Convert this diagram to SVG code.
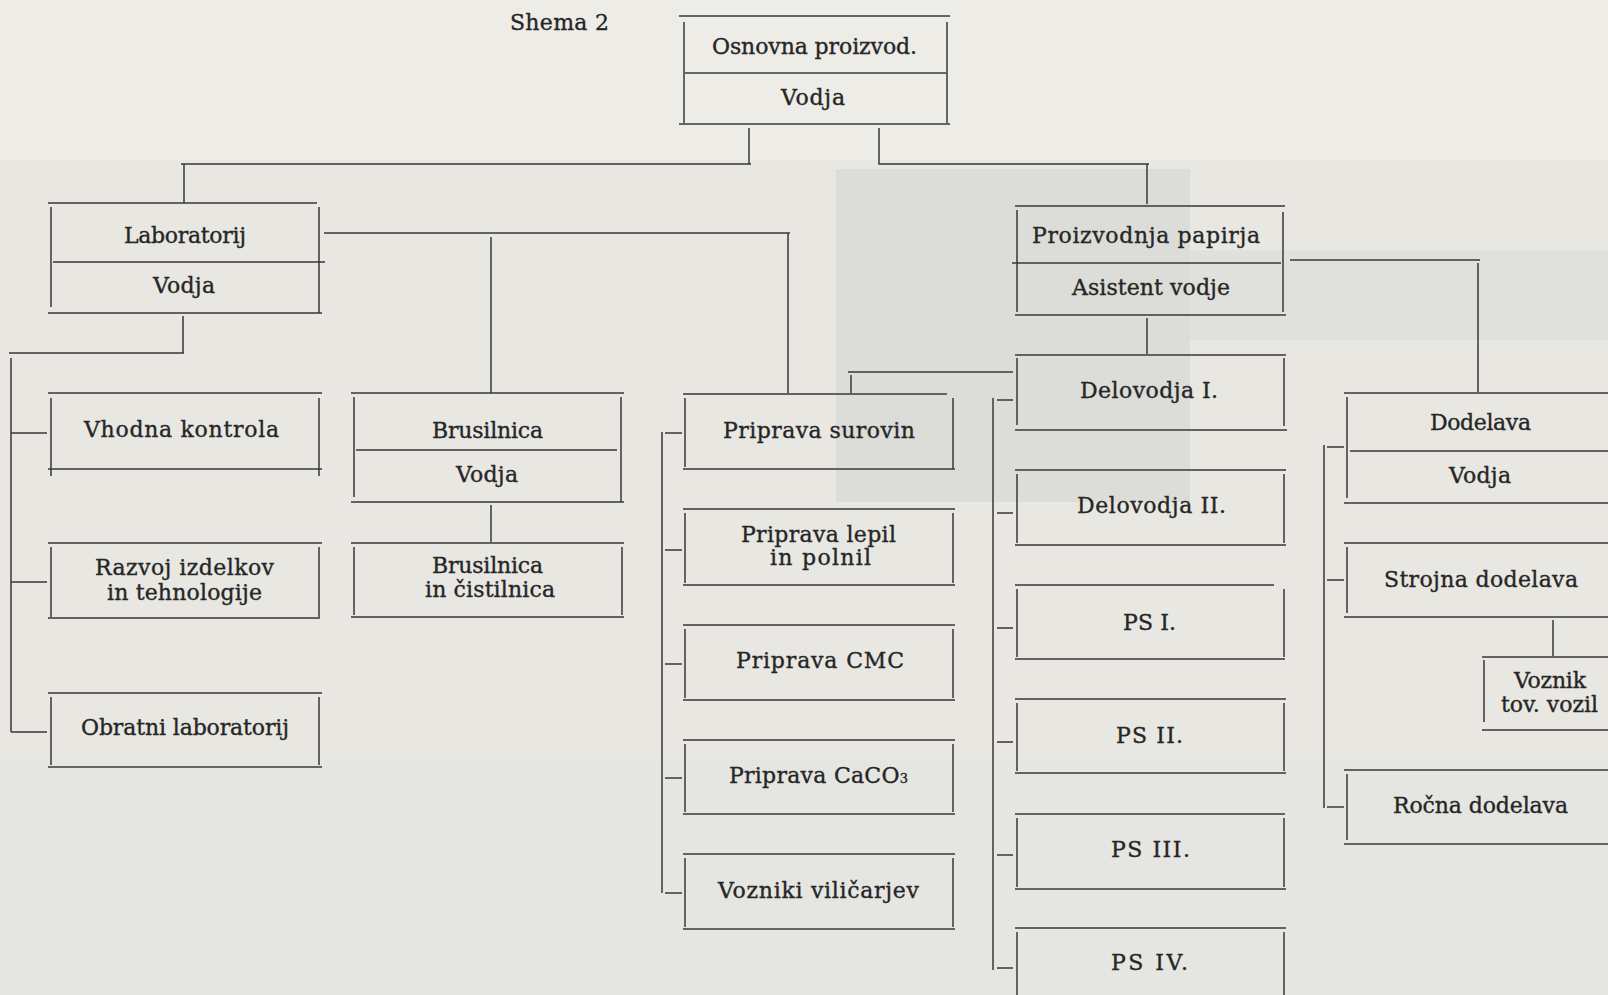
<svg xmlns="http://www.w3.org/2000/svg" width="1608" height="995" viewBox="0 0 1608 995">
<style>
.bx{fill:none;stroke:#383838;stroke-width:1.5}
.cn{fill:none;stroke:#383838;stroke-width:1.5}
text{font-family:"DejaVu Serif","Liberation Serif",serif;font-size:22px;fill:#262626;stroke:#262626;stroke-width:0.35;text-anchor:middle}
</style>
<rect x="0" y="0" width="1608" height="995" fill="#e8e7e2"/>
<rect x="0" y="0" width="1608" height="160" fill="#edece7"/>
<rect x="836" y="169" width="354" height="333" fill="#dcdcd8"/>
<rect x="1190" y="250" width="418" height="90" fill="#e0e0dc"/>
<rect x="0" y="760" width="1608" height="235" fill="#e5e5e1"/>

<text x="559.5" y="30" textLength="99" lengthAdjust="spacing">Shema 2</text>

<g id="connectors" class="cn">
<path d="M749 128 V164 M181 164 H751"/>
<path d="M879 128 V164 H1149 M1147 164 V204"/>
<path d="M184 164 V203"/>
<path d="M324 233 H790 M788 233 V393"/>
<path d="M491 237 V393"/>
<path d="M183 316 V353 M9 353 H184 M11 358 V732 M11 433 H47 M11 582 H47 M11 732 H47"/>
<path d="M491 505 V542"/>
<path d="M848 372 H1013 M851 375 V393"/>
<path d="M662 432 V893 M665 433 H682 M665 550 H682 M665 664 H682 M665 778 H682 M665 893 H682"/>
<path d="M993 398 V970 M997 400 H1013 M997 513 H1013 M997 628 H1013 M997 742 H1013 M997 855 H1013 M997 968 H1013"/>
<path d="M1147 318 V354"/>
<path d="M1290 260 H1480 M1478 263 V392"/>
<path d="M1324 445 V808 M1327 447 H1344 M1327 580 H1344 M1327 807 H1344"/>
<path d="M1553 620 V656"/>
</g>

<g id="osnovna"><path class="bx" d="M679 16 H950 M679 124 H950 M684 22 V123 M947 22 V123 M685 73 H946"/>
<text x="814.5" y="54" textLength="205" lengthAdjust="spacing">Osnovna proizvod.</text>
<text x="813" y="105" textLength="64" lengthAdjust="spacing">Vodja</text></g>

<g id="laboratorij"><path class="bx" d="M48 203 H317 M48 313 H322 M51 207 V307 M319 207 V313 M53 262 H325"/>
<text x="185" y="243" textLength="122" lengthAdjust="spacing">Laboratorij</text>
<text x="184" y="293" textLength="62" lengthAdjust="spacing">Vodja</text></g>

<g id="vhodna"><path class="bx" d="M48 393 H322 M48 469 H322 M51 398 V476 M319 398 V476"/>
<text x="181.5" y="437" textLength="195" lengthAdjust="spacing">Vhodna kontrola</text></g>

<g id="razvoj"><path class="bx" d="M48 543 H322 M48 618 H320 M51 547 V617 M319 547 V617"/>
<text x="184.5" y="575" textLength="179" lengthAdjust="spacing">Razvoj izdelkov</text>
<text x="184.5" y="600" textLength="155" lengthAdjust="spacing">in tehnologije</text></g>

<g id="obratni"><path class="bx" d="M48 693 H322 M48 767 H322 M51 697 V765 M319 697 V765"/>
<text x="185" y="735" textLength="208" lengthAdjust="spacing">Obratni laboratorij</text></g>

<g id="brusilnica"><path class="bx" d="M351 393 H624 M351 502 H624 M354 397 V497 M621 397 V502 M356 450 H617"/>
<text x="487.5" y="438" textLength="111" lengthAdjust="spacing">Brusilnica</text>
<text x="487" y="482" textLength="62" lengthAdjust="spacing">Vodja</text></g>

<g id="brusilnica-cistilnica"><path class="bx" d="M351 543 H624 M351 617 H624 M354 547 V615 M622 547 V615"/>
<text x="487.5" y="573" textLength="111" lengthAdjust="spacing">Brusilnica</text>
<text x="490" y="597" textLength="130" lengthAdjust="spacing">in čistilnica</text></g>

<g id="priprava-surovin"><path class="bx" d="M683 394 H947 M683 469 H955 M685 398 V467 M953 398 V469"/>
<text x="819" y="438" textLength="192" lengthAdjust="spacing">Priprava surovin</text></g>

<g id="priprava-lepil"><path class="bx" d="M683 509 H955 M683 585 H955 M685 513 V583 M953 513 V583"/>
<text x="818.5" y="542" textLength="155" lengthAdjust="spacing">Priprava lepil</text>
<text x="820.5" y="565" textLength="101" lengthAdjust="spacing">in polnil</text></g>

<g id="priprava-cmc"><path class="bx" d="M683 625 H955 M683 700 H955 M685 629 V698 M953 629 V698"/>
<text x="820" y="668" textLength="168" lengthAdjust="spacing">Priprava CMC</text></g>

<g id="priprava-caco3"><path class="bx" d="M683 740 H955 M683 814 H955 M685 744 V812 M953 744 V812"/>
<text x="818.5" y="783" textLength="179" lengthAdjust="spacing">Priprava CaCO<tspan font-size="13">3</tspan></text></g>

<g id="vozniki"><path class="bx" d="M683 854 H955 M683 929 H955 M685 858 V927 M953 858 V927"/>
<text x="818.5" y="898" textLength="201" lengthAdjust="spacing">Vozniki viličarjev</text></g>

<g id="proizvodnja"><path class="bx" d="M1015 206 H1285 M1015 315 H1286 M1017 210 V312 M1283 212 V312 M1012 263 H1281"/>
<text x="1146" y="243" textLength="228" lengthAdjust="spacing">Proizvodnja papirja</text>
<text x="1151" y="295" textLength="158" lengthAdjust="spacing">Asistent vodje</text></g>

<g id="delovodja1"><path class="bx" d="M1015 355 H1286 M1015 430 H1287 M1017 358 V425 M1284 358 V426"/>
<text x="1149" y="398" textLength="138" lengthAdjust="spacing">Delovodja I.</text></g>

<g id="delovodja2"><path class="bx" d="M1015 470 H1286 M1015 545 H1286 M1017 474 V543 M1284 474 V543"/>
<text x="1151.5" y="513" textLength="149" lengthAdjust="spacing">Delovodja II.</text></g>

<g id="ps1"><path class="bx" d="M1015 585 H1274 M1015 659 H1285 M1017 589 V657 M1284 589 V657"/>
<text x="1149.5" y="630" textLength="53" lengthAdjust="spacing">PS I.</text></g>

<g id="ps2"><path class="bx" d="M1015 699 H1286 M1015 773 H1286 M1017 703 V771 M1284 703 V771"/>
<text x="1149.5" y="743" textLength="67" lengthAdjust="spacing">PS II.</text></g>

<g id="ps3"><path class="bx" d="M1015 814 H1285 M1015 889 H1286 M1017 818 V887 M1284 818 V887"/>
<text x="1150.5" y="857" textLength="79" lengthAdjust="spacing">PS III.</text></g>

<g id="ps4"><path class="bx" d="M1015 928 H1286 M1017 932 V995 M1284 932 V995"/>
<text x="1149.5" y="970" textLength="77" lengthAdjust="spacing">PS IV.</text></g>

<g id="dodelava"><path class="bx" d="M1344 393 H1608 M1344 503 H1608 M1347 397 V498 M1350 451 H1608"/>
<text x="1480.5" y="430" textLength="101" lengthAdjust="spacing">Dodelava</text>
<text x="1480" y="483" textLength="62" lengthAdjust="spacing">Vodja</text></g>

<g id="strojna"><path class="bx" d="M1344 543 H1608 M1344 617 H1608 M1347 547 V613"/>
<text x="1481" y="587" textLength="194" lengthAdjust="spacing">Strojna dodelava</text></g>

<g id="voznik"><path class="bx" d="M1482 657 H1608 M1482 730 H1608 M1484 660 V722"/>
<text x="1550" y="688" textLength="72" lengthAdjust="spacing">Voznik</text>
<text x="1549.5" y="712" textLength="97" lengthAdjust="spacing">tov. vozil</text></g>

<g id="rocna"><path class="bx" d="M1344 770 H1608 M1344 844 H1608 M1347 774 V840"/>
<text x="1480.5" y="813" textLength="175" lengthAdjust="spacing">Ročna dodelava</text></g>
</svg>
